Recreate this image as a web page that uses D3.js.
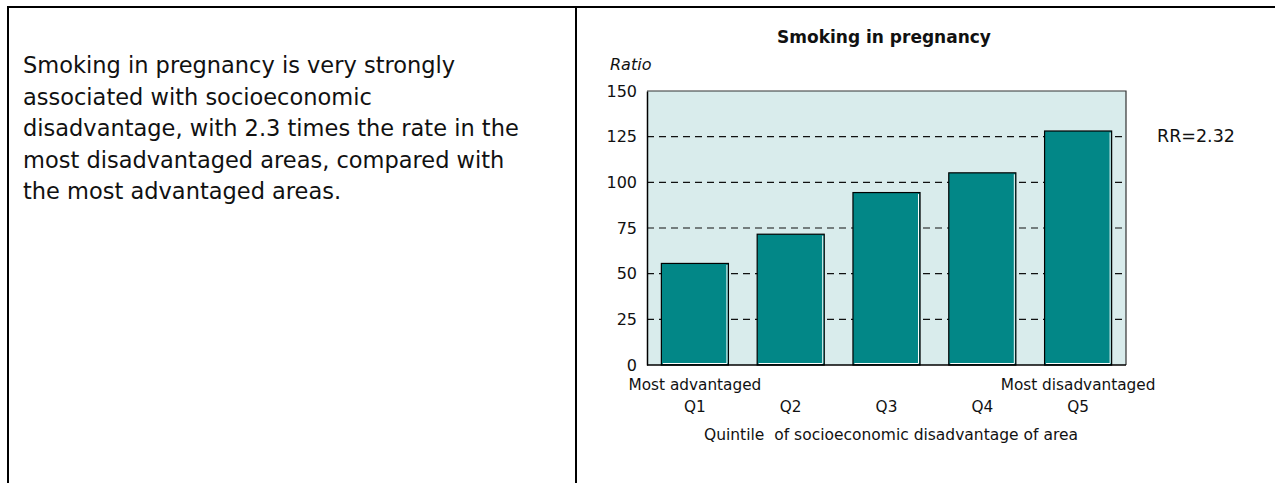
<!DOCTYPE html>
<html lang="en">
<head>
    <meta charset="UTF-8">
    <title>Smoking in pregnancy</title>
    <script src="https://d3js.org/d3.v7.min.js"></script>
    <style>
        body { margin: 0; background: #fff; }
        svg text { fill: #111; }
    </style>
</head>
<body>
    <svg id="chart"></svg>

    <script>
        // data
        const quintiles = ["Q1", "Q2", "Q3", "Q4", "Q5"];
        const ratios = [55.6, 71.6, 94.4, 105.2, 128.1];
        const yTicks = [0, 25, 50, 75, 100, 125, 150];
        const endLabels = ["Most advantaged", "", "", "", "Most disadvantaged"];
        const rrLabel = "RR=2.32";
        const rrValue = 125;
        const noteLines = [
            "Smoking in pregnancy is very strongly",
            "associated with socioeconomic",
            "disadvantage, with 2.3 times the rate in the",
            "most disadvantaged areas, compared with",
            "the most advantaged areas."
        ];

        const width = 1275, height = 483;
        const svg = d3.select("#chart").attr("width", width).attr("height", height);
        const font = "DejaVu Sans, sans-serif";

        // frame lines
        svg.append("path")
            .attr("d", "M8,483 V7 H1275 M576,7 V483")
            .attr("fill", "none").attr("stroke", "#000").attr("stroke-width", 2);

        // left text
        svg.append("g").selectAll("text")
            .data(noteLines)
            .enter().append("text")
            .attr("x", 23)
            .attr("y", (d, i) => 73 + i * 31.5)
            .attr("font-family", font)
            .attr("font-size", 22.5)
            .text(d => d);

        const margin = { left: 647, right: 1126, top: 91, bottom: 365 };
        const x = d3.scaleBand()
            .domain(quintiles)
            .range([margin.left, margin.right])
            .paddingInner(0.3)
            .paddingOuter(0.15);
        const y = d3.scaleLinear()
            .domain([0, 150])
            .range([margin.bottom, margin.top]);

        // plot background
        svg.append("rect")
            .attr("x", margin.left).attr("y", margin.top)
            .attr("width", margin.right - margin.left)
            .attr("height", margin.bottom - margin.top)
            .attr("fill", "#d9ecec");

        // dashed grid
        svg.append("g")
            .selectAll("line")
            .data(yTicks.filter(t => t > 0 && t < 150))
            .enter().append("line")
            .attr("x1", margin.left).attr("x2", margin.right)
            .attr("y1", d => y(d)).attr("y2", d => y(d))
            .attr("stroke", "#111").attr("stroke-width", 1.2)
            .attr("stroke-dasharray", "7,5");

        // top and right border
        svg.append("path")
            .attr("d", `M${margin.left},${margin.top} H${margin.right} V${margin.bottom}`)
            .attr("fill", "none").attr("stroke", "#333").attr("stroke-width", 1.2);

        // bars
        const bars = svg.append("g").selectAll("g")
            .data(quintiles)
            .enter().append("g");
        bars.append("rect")
            .attr("x", d => x(d))
            .attr("y", (d, i) => y(ratios[i]))
            .attr("width", x.bandwidth())
            .attr("height", (d, i) => y(0) - y(ratios[i]))
            .attr("fill", "#028787")
            .attr("stroke", "#000")
            .attr("stroke-width", 1.2);
        bars.append("path")
            .attr("d", (d, i) => `M${x(d) + x.bandwidth() - 1.5},${y(ratios[i]) + 1.5} V${y(0) - 1.5} H${x(d) + 1.5}`)
            .attr("fill", "none").attr("stroke", "#fff").attr("stroke-width", 1);

        // axes
        const yAxis = svg.append("g")
            .attr("transform", `translate(${margin.left},0)`)
            .call(d3.axisLeft(y).tickValues(yTicks).tickSize(0).tickPadding(10));
        yAxis.select(".domain").attr("stroke", "#000").attr("stroke-width", 1.5);
        yAxis.selectAll("text").attr("font-family", font).attr("font-size", 16);

        svg.append("line")
            .attr("x1", margin.left).attr("x2", margin.right)
            .attr("y1", y(0)).attr("y2", y(0))
            .attr("stroke", "#000").attr("stroke-width", 1.5);

        // x labels
        svg.append("g").selectAll("text")
            .data(quintiles)
            .enter().append("text")
            .attr("x", d => x(d) + x.bandwidth() / 2)
            .attr("y", 412)
            .attr("text-anchor", "middle")
            .attr("font-family", font).attr("font-size", 15.3)
            .text(d => d);
        svg.append("g").selectAll("text")
            .data(quintiles)
            .enter().append("text")
            .attr("x", d => x(d) + x.bandwidth() / 2)
            .attr("y", 390)
            .attr("text-anchor", "middle")
            .attr("font-family", font).attr("font-size", 15.3)
            .text((d, i) => endLabels[i]);

        svg.append("text")
            .attr("x", 891)
            .attr("y", 440)
            .attr("text-anchor", "middle")
            .attr("font-family", font).attr("font-size", 15.5)
            .attr("xml:space", "preserve")
            .text("Quintile  of socioeconomic disadvantage of area");

        // titles
        svg.append("text")
            .attr("x", 884).attr("y", 43)
            .attr("text-anchor", "middle")
            .attr("font-family", font).attr("font-size", 17).attr("font-weight", "bold")
            .text("Smoking in pregnancy");
        svg.append("text")
            .attr("x", 610).attr("y", 70)
            .attr("font-family", font).attr("font-size", 16).attr("font-style", "italic")
            .text("Ratio");
        svg.append("text")
            .attr("x", 1157).attr("y", y(rrValue) + 5)
            .attr("font-family", font).attr("font-size", 17.5)
            .text(rrLabel);
    </script>
</body>
</html>
